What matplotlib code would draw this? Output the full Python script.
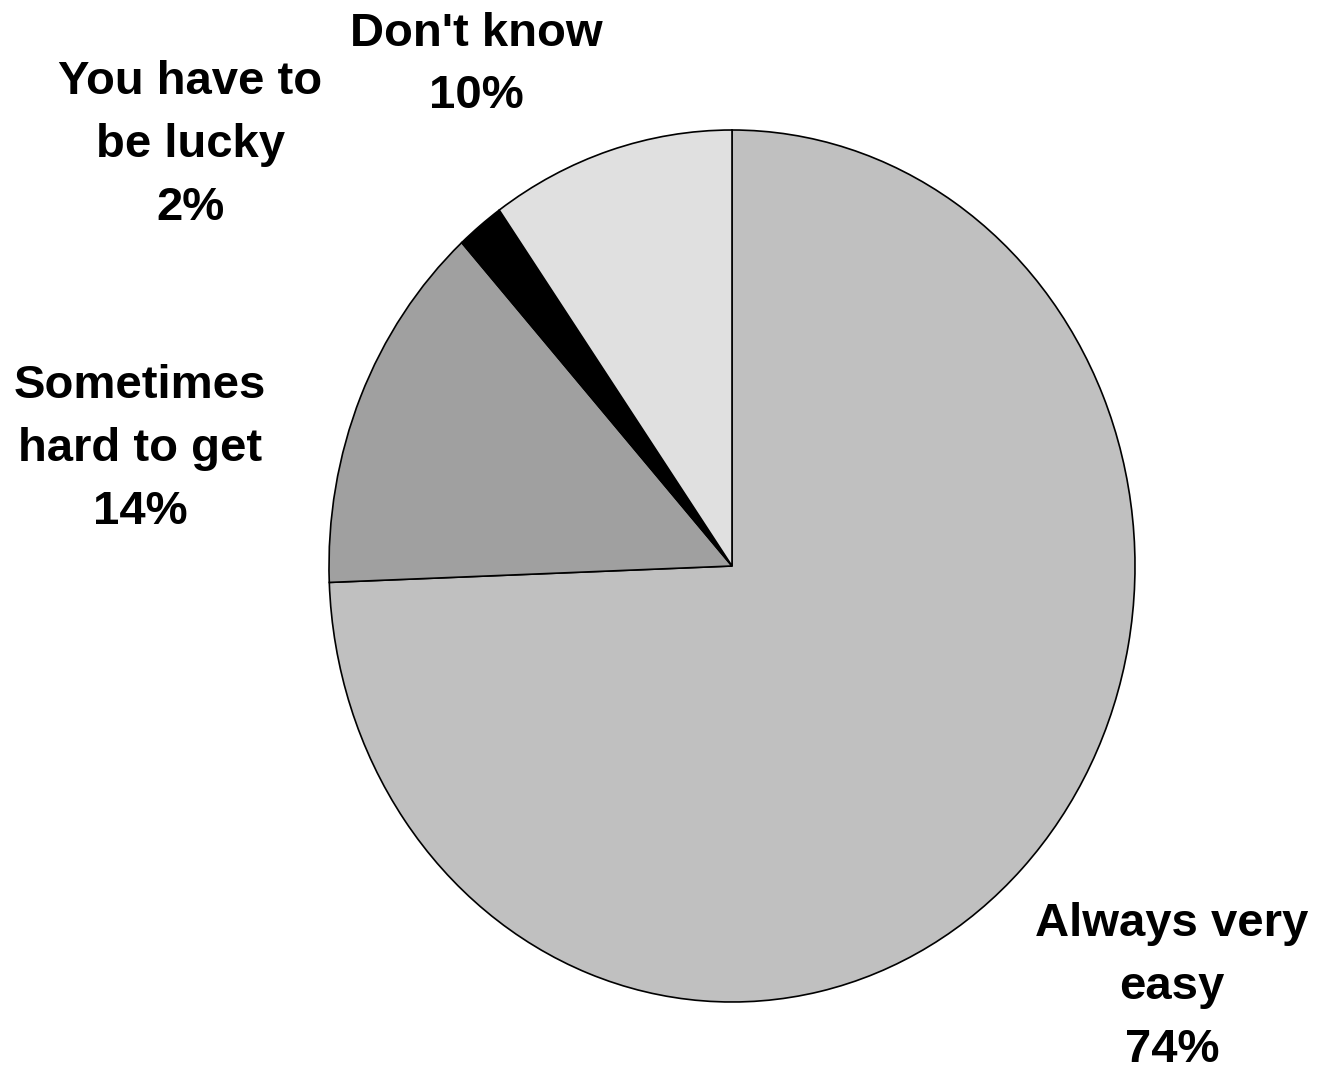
import matplotlib.pyplot as plt

# slice data, clockwise from 12 o'clock (read from the slice edges)
labels = ["Always very\neasy", "Sometimes\nhard to get", "You have to\nbe lucky", "Don't know"]
shares = [74.4, 13.9, 1.9, 9.8]
colors = ["#C0C0C0", "#A0A0A0", "#000000", "#E0E0E0"]

# label centres in figure pixels (x, y from top)
label_pos = [(1172, 987), (140, 449), (190, 145), (476, 65)]

W, H = 1319, 1074
fig = plt.figure(figsize=(W / 100, H / 100), dpi=100)

# the pie in the original is a little taller than wide
ax = fig.add_axes([329 / W, (H - 1002) / H, 806 / W, 872 / H])
ax.pie(shares, colors=colors, startangle=90, counterclock=False,
       wedgeprops=dict(edgecolor="black", linewidth=1.2))
ax.set_aspect("auto")
ax.set_xlim(-1, 1)
ax.set_ylim(-1, 1)
ax.axis("off")

for lab, val, (px, py) in zip(labels, shares, label_pos):
    fig.text(px / W, 1 - py / H, f"{lab}\n{val:.0f}%", ha="center", va="center",
             fontsize=34, fontweight="bold", family="Liberation Sans",
             linespacing=1.55)

plt.savefig("out.png", dpi=100)
